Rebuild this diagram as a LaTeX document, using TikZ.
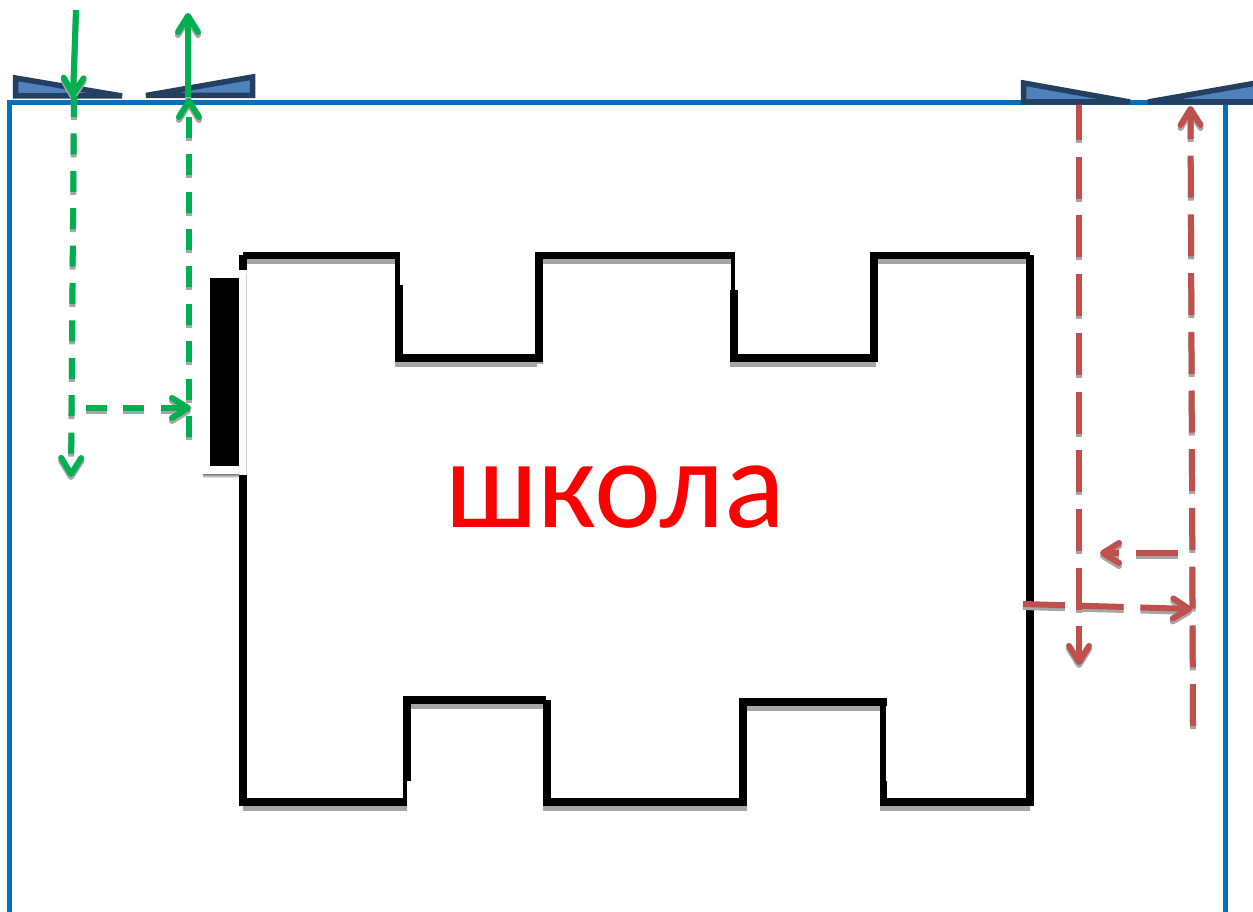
\documentclass[tikz,border=0pt]{standalone}
\usepackage{fontspec}
\setmainfont{Carlito}
\usetikzlibrary{arrows.meta}
\definecolor{bluefr}{HTML}{0070C0}
\definecolor{wedgefill}{HTML}{4F81BD}
\definecolor{wedgeedge}{HTML}{243F60}
\definecolor{grn}{HTML}{00B050}
\definecolor{redd}{HTML}{C0504D}
\definecolor{shade}{HTML}{A6A6A6}
\tikzset{
  x=1pt,y=-1pt,
  frame/.style={draw=bluefr,line width=5pt,line join=miter},
  wedge/.style={draw=wedgeedge,fill=wedgefill,line width=5.5pt,line join=miter},
  wall/.style={line width=#1,draw=black},
  wall/.default=8pt,
  wallsh/.style={line width=#1,draw=shade,transform canvas={yshift=-5pt}},
  wallsh/.default=8pt,
  head/.style={-{Straight Barb[round,length=16pt,width=20pt]}},
  greenl/.style={draw=grn,line width=6pt},
  redl/.style={draw=redd,line width=6pt},
  gdash/.style={dash pattern=on 21pt off 16.4pt},
  rdash/.style={dash pattern=on 42pt off 16.7pt},
  lsh/.style={draw=shade,line width=6pt,transform canvas={yshift=-3pt}},
}
\newcommand{\wallblk}[3]{%
  \draw[wall=#1] #2 -- #3;}
\begin{document}
\begin{tikzpicture}
\clip (0,0) rectangle (1253,912);
\fill[white] (0,0) rectangle (1253,912);

% ---- named ends
\coordinate (gInA) at (76,10);
\coordinate (gInB) at (73,97);
\coordinate (gOutA) at (188,97);
\coordinate (gOutB) at (188,13);
\coordinate (gDownA) at (74,96);
\coordinate (gDownB) at (71,477);
\coordinate (gUpA) at (189,437);
\coordinate (gUpB) at (189,98);
\coordinate (gAcrossA) at (86,408);
\coordinate (gAcrossB) at (191,408);
\coordinate (rDownA) at (1079,98);
\coordinate (rDownB) at (1079,665);
\coordinate (rUpA) at (1193,726);
\coordinate (rUpB) at (1190.5,106);
\coordinate (rAcrossA) at (1023,604);
\coordinate (rAcrossB) at (1192,609);
\coordinate (rBackA) at (1178,553);
\coordinate (rBackB) at (1100,553);

% ---- outer frame
\draw[frame] (9.5,912) -- (9.5,102.5) -- (1253,102.5);
\draw[frame] (1225,102.5) -- (1225,912);

% ---- wall shadows
\foreach \a/\b/\w in {
  {(243,255.5)}/{(400,255.5)}/7.5pt,
  {(395,358)}/{(537,358)}/8pt,
  {(539,340)}/{(539,358.5)}/8pt,
  {(543,255.5)}/{(731,255.5)}/7.5pt,
  {(730,358)}/{(876,358)}/8pt,
  {(878,255.5)}/{(1026,255.5)}/7.5pt,
  {(243,802)}/{(407,802)}/8pt,
  {(411,700)}/{(543,700)}/8pt,
  {(543,802)}/{(747,802)}/8pt,
  {(747,702)}/{(880,702)}/8pt,
  {(880,802)}/{(1030,802)}/8pt}
  {\draw[wallsh=\w] \a -- \b;}

% ---- door opening
\fill[shade] (203,474) rectangle (239,478);
\fill[white] (203,273) rectangle (246,474);
\draw[shade!50,line width=0.6pt] (246,273) -- (246,474);

% ---- walls, top
\wallblk{8pt}{(243,255)}{(243,270)}
\wallblk{7.5pt}{(243,255.5)}{(400,255.5)}
\wallblk{5pt}{(397.5,252)}{(397.5,285)}
\wallblk{8pt}{(399,285)}{(399,362)}
\wallblk{8pt}{(395,358)}{(537,358)}
\wallblk{8pt}{(539,252)}{(539,362)}
\wallblk{7.5pt}{(535,255.5)}{(734,255.5)}
\wallblk{4pt}{(732.5,252)}{(732.5,290)}
\wallblk{8pt}{(734,290)}{(734,362)}
\wallblk{8pt}{(730,358)}{(876,358)}
\wallblk{8pt}{(874,252)}{(874,362)}
\wallblk{7.5pt}{(870,255.5)}{(1030,255.5)}
\wallblk{8pt}{(1030,255)}{(1030,806)}
% ---- walls, sides and bottom
\wallblk{8pt}{(243,475)}{(243,806)}
\wallblk{8pt}{(239,802)}{(407,802)}
\wallblk{4pt}{(405,781)}{(405,806)}
\wallblk{8pt}{(407,696)}{(407,781)}
\wallblk{8pt}{(403,699.5)}{(546,699.5)}
\wallblk{8pt}{(547,700)}{(547,806)}
\wallblk{8pt}{(543,802)}{(747,802)}
\wallblk{8pt}{(742.5,699)}{(742.5,806)}
\wallblk{8pt}{(739,702)}{(887,702)}
\wallblk{6pt}{(883,698)}{(883,781)}
\wallblk{7pt}{(883.5,781)}{(883.5,806)}
\wallblk{8pt}{(880,802)}{(1034,802)}

% ---- door
\fill[black] (210,278) rectangle (239,466);

% ---- label
\node[anchor=base,text=red,inner sep=0pt,font=\fontsize{127}{127}\selectfont] (school) at (615,527) {школа};

% ---- red connectors (under the wedges)
\draw[lsh,rdash,head] (rDownA) -- (rDownB);
\draw[lsh,rdash,head] (rUpA) -- (rUpB);
\draw[lsh,rdash,head] (rAcrossA) -- (rAcrossB);
\draw[lsh,rdash,head] (rBackA) -- (rBackB);
\draw[redl,rdash,head] (rUpA) -- (rUpB);
\draw[redl,rdash,head] (rDownA) -- (rDownB);
\draw[redl,rdash,head] (rAcrossA) -- (rAcrossB);
\draw[redl,rdash,head] (rBackA) -- (rBackB);

% ---- wedges
\draw[wedge] (15.5,78) -- (122,96) -- (15.5,96) -- cycle;
\draw[wedge] (146,95.5) -- (252.5,77) -- (252.5,95.5) -- cycle;
\draw[wedge] (1023.5,83) -- (1130,102) -- (1023.5,102) -- cycle;
\draw[wedge] (1148,102) -- (1262,82) -- (1262,102) -- cycle;

% ---- green connectors
\foreach \p/\q in {gDownA/gDownB,gUpA/gUpB,gAcrossA/gAcrossB}
  {\draw[lsh,gdash,head] (\p) -- (\q);}
\draw[lsh,head] (gInA) -- (gInB);
\draw[lsh,head] (gOutA) -- (gOutB);
\draw[greenl,gdash,head] (gDownA) -- (gDownB);
\draw[greenl,gdash,head] (gUpA) -- (gUpB);
\draw[greenl,gdash,head] (gAcrossA) -- (gAcrossB);
\draw[greenl,head] (gInA) -- (gInB);
\draw[greenl,head] (gOutA) -- (gOutB);
\end{tikzpicture}
\end{document}
